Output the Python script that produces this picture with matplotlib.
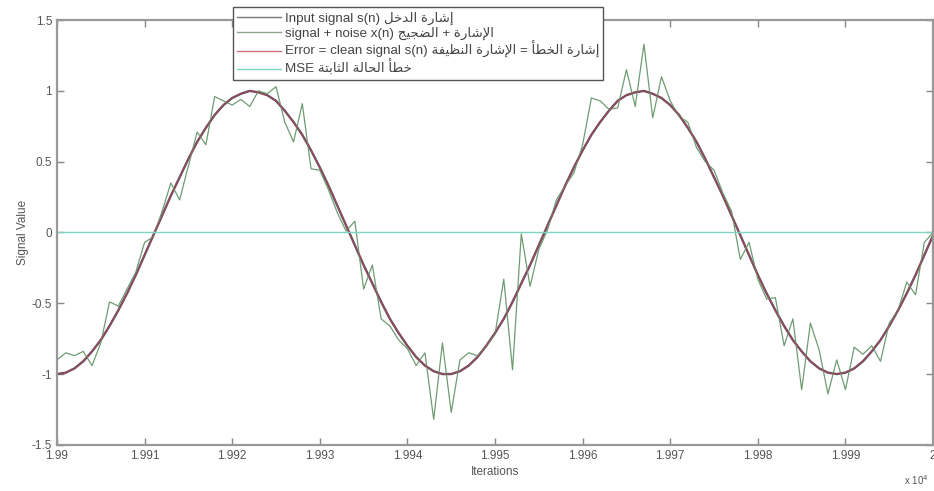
import matplotlib
matplotlib.use("Agg")
import matplotlib.pyplot as plt

plt.rcParams['font.family'] = ['Liberation Sans', 'DejaVu Sans']

# iterations 19900 .. 20000
iterations = list(range(19900, 20001))

clean = [-1.00, -0.99, -0.96, -0.91, -0.84, -0.76, -0.66, -0.55, -0.43, -0.30,
         -0.16, -0.02, 0.12, 0.26, 0.39, 0.52, 0.64, 0.74, 0.83, 0.90,
         0.95, 0.98, 1.00, 0.99, 0.97, 0.93, 0.86, 0.78, 0.69, 0.58,
         0.46, 0.33, 0.19, 0.05, -0.09, -0.23, -0.36, -0.49, -0.61, -0.71,
         -0.80, -0.88, -0.94, -0.98, -1.00, -1.00, -0.98, -0.94, -0.88, -0.80,
         -0.71, -0.61, -0.49, -0.36, -0.23, -0.09, 0.05, 0.19, 0.33, 0.46,
         0.58, 0.69, 0.78, 0.86, 0.93, 0.97, 0.99, 1.00, 0.98, 0.95,
         0.90, 0.83, 0.74, 0.64, 0.52, 0.39, 0.26, 0.12, -0.02, -0.16,
         -0.30, -0.43, -0.55, -0.66, -0.76, -0.84, -0.91, -0.96, -0.99, -1.00,
         -0.99, -0.96, -0.91, -0.84, -0.76, -0.66, -0.55, -0.43, -0.30, -0.16,
         -0.02]

noisy = [-0.90, -0.85, -0.87, -0.84, -0.94, -0.78, -0.49, -0.52, -0.40, -0.28,
         -0.07, -0.03, 0.15, 0.35, 0.23, 0.47, 0.71, 0.62, 0.96, 0.93,
         0.90, 0.94, 0.89, 1.00, 0.98, 1.03, 0.78, 0.64, 0.91, 0.45,
         0.44, 0.30, 0.14, 0.01, 0.08, -0.40, -0.23, -0.61, -0.66, -0.76,
         -0.82, -0.94, -0.85, -1.32, -0.78, -1.27, -0.90, -0.85, -0.87, -0.80,
         -0.72, -0.33, -0.97, -0.01, -0.38, -0.12, 0.02, 0.23, 0.33, 0.42,
         0.62, 0.95, 0.93, 0.87, 0.88, 1.15, 0.89, 1.33, 0.81, 1.10,
         0.93, 0.82, 0.78, 0.60, 0.50, 0.44, 0.28, 0.15, -0.19, -0.07,
         -0.33, -0.47, -0.46, -0.80, -0.61, -1.11, -0.64, -0.83, -1.14, -0.90,
         -1.11, -0.81, -0.86, -0.80, -0.91, -0.64, -0.55, -0.35, -0.44, -0.07,
         0.00]

mse = [0.0] * len(iterations)

xticks = list(range(19900, 20001, 10))
xtick_labels = ['1.99', '1.991', '1.992', '1.993', '1.994', '1.995',
                '1.996', '1.997', '1.998', '1.999', '2']
yticks = [-1.5, -1, -0.5, 0, 0.5, 1, 1.5]
ytick_labels = ['-1.5', '-1', '-0.5', '0', '0.5', '1', '1.5']

# arabic words, already shaped and in visual (left to right) order
ishara = "\uFE93\uFEAD\uFE8E\uFEB7\uFE87"
aldakhl = "\uFEDE\uFEA7\uFEAA\uFEDF\uFE8D"
alishara = "\uFE93\uFEAD\uFE8E\uFEB7\uFEF9\uFE8D"
aldajeej = "\uFE9E\uFEF4\uFEA0\uFEC0\uFEDF\uFE8D"
alkhata = "\uFE84\uFEC4\uFEA8\uFEDF\uFE8D"
alnathifa = "\uFE94\uFED4\uFEF4\uFEC8\uFEE8\uFEDF\uFE8D"
khata = "\uFE84\uFEC4\uFEA7"
alhala = "\uFE94\uFEDF\uFE8E\uFEA4\uFEDF\uFE8D"
althabita = "\uFE94\uFE98\uFE91\uFE8E\uFE9C\uFEDF\uFE8D"

labels = [
    "Input signal s(n) " + aldakhl + " " + ishara,
    "signal + noise x(n) " + aldajeej + " + " + alishara,
    "Error = clean signal s(n) " + alnathifa + " " + alishara + " = " + alkhata + " " + ishara,
    "MSE " + althabita + " " + alhala + " " + khata,
]

fig = plt.figure(figsize=(9.34, 4.91), dpi=100)
ax = fig.add_axes([0.061, 0.094, 0.938, 0.865])

ax.plot(iterations, clean, color='#5e5058', lw=1.7, label=labels[0])
ax.plot(iterations, noisy, color='#6e9c72', lw=0.9, label=labels[1])
ax.plot(iterations, clean, color='#a04860', lw=0.8, label=labels[2])
ax.plot(iterations, mse, color='#7fd3c3', lw=1.0, label=labels[3])

ax.set_xlim(19900, 20000)
ax.set_ylim(-1.5, 1.5)
ax.set_xticks(xticks)
ax.set_xticklabels(xtick_labels)
ax.set_yticks(yticks)
ax.set_yticklabels(ytick_labels)
ax.tick_params(direction='in', length=5, width=1, colors='#888888',
               labelcolor='#555555', labelsize=8.5, top=True, right=True)
for s in ax.spines.values():
    s.set_color('#999999')
    s.set_linewidth(1.6)

ax.set_xlabel('Iterations', fontsize=8.5, color='#555555', labelpad=3)
ax.set_ylabel('Signal Value', fontsize=8.5, color='#555555', labelpad=2)

leg = ax.legend(loc='upper left', bbox_to_anchor=(0.2007, 1.03), fontsize=9.6,
                handlelength=3.3, handletextpad=0.3, labelspacing=0.12,
                borderpad=0.3, borderaxespad=0, fancybox=False, framealpha=1)
leg.get_frame().set_edgecolor('#555555')
leg.get_frame().set_linewidth(1.0)
# legend handles drawn thin, like the reference
handle_colors = ['#777777', '#8aa88c', '#d07080', '#7fd3c3']
for h, c in zip(leg.legend_handles, handle_colors):
    h.set_linewidth(1.0)
    h.set_color(c)
for t in leg.get_texts():
    t.set_color('#444444')

fig.text(0.968, 0.012, 'x 10$^4$', fontsize=7, color='#555555')

fig.savefig('out.png', dpi=100)
